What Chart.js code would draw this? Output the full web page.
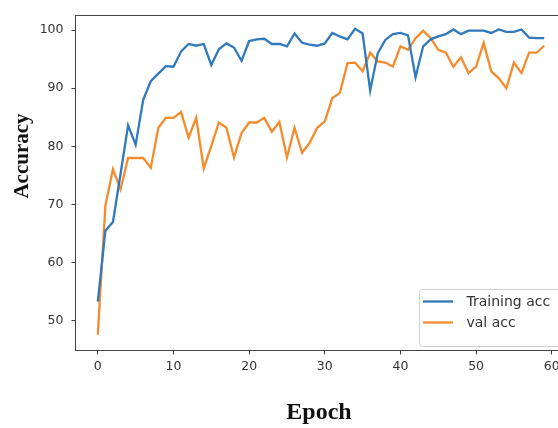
<!DOCTYPE html>
<html><head><meta charset="utf-8">
<script src="https://cdn.jsdelivr.net/npm/chart.js@4/dist/chart.umd.min.js"></script>
<style>
html,body{margin:0;padding:0;overflow:hidden;background:#fff;width:558px;height:428px}
#wrap{position:absolute;left:0;top:0;width:600px;height:428px}
</style>
</head><body>
<div id="wrap"><canvas id="c" width="600" height="428"></canvas></div>
<script>
const epochs = [0,1,2,3,4,5,6,7,8,9,10,11,12,13,14,15,16,17,18,19,20,21,22,23,24,25,26,27,28,29,
  30,31,32,33,34,35,36,37,38,39,40,41,42,43,44,45,46,47,48,49,50,51,52,53,54,55,56,57,58,59];
const trainingAcc = [53.3,65.5,67.0,75.2,83.6,80.3,88.0,91.2,92.5,93.8,93.7,96.3,97.6,97.3,97.6,
  94.0,96.7,97.7,97.0,94.7,98.1,98.4,98.5,97.6,97.6,97.2,99.4,97.8,97.5,97.3,
  97.7,99.5,98.9,98.4,100.2,99.4,89.6,96.0,98.3,99.3,99.5,99.1,91.9,97.2,98.4,
  98.9,99.3,100.1,99.3,99.9,99.9,99.9,99.5,100.1,99.7,99.7,100.1,98.7,98.6,98.6];
const valAcc = [47.6,69.8,76.1,72.6,78.0,78.0,78.0,76.3,83.2,84.9,84.9,85.9,81.5,84.9,76.2,
  80.1,84.1,83.2,78.1,82.3,84.1,84.1,84.9,82.5,84.2,78.1,83.2,78.9,80.6,83.2,
  84.3,88.3,89.2,94.3,94.4,92.9,96.1,94.6,94.4,93.7,97.2,96.6,98.6,99.9,98.6,
  96.6,96.1,93.7,95.3,92.6,93.7,97.8,92.9,91.7,90.0,94.4,92.6,96.1,96.1,97.3];
const xTicks = [0,10,20,30,40,50,60];
const yTicks = [50,60,70,80,90,100];
const seriesLabels = ['Training acc','val acc'];
const xTitle = 'Epoch';
const yTitle = 'Accuracy';

const toPts = vals => epochs.map((e,i)=>({x:e,y:vals[i]}));

const extras = {
  id:'extras',
  afterDraw(chart){
    const ctx = chart.ctx, a = chart.chartArea;
    ctx.save();
    // top & right spines
    ctx.strokeStyle = '#444'; ctx.lineWidth = 1;
    ctx.beginPath();
    ctx.moveTo(a.left, a.top); ctx.lineTo(a.right, a.top); ctx.lineTo(a.right, a.bottom);
    ctx.stroke();
    // legend
    const lx = 419.5, ly = 289.5, lw = 170, lh = 57, r = 3;
    ctx.beginPath();
    ctx.moveTo(lx+r, ly); ctx.lineTo(lx+lw-r, ly); ctx.arcTo(lx+lw, ly, lx+lw, ly+r, r);
    ctx.lineTo(lx+lw, ly+lh-r); ctx.arcTo(lx+lw, ly+lh, lx+lw-r, ly+lh, r);
    ctx.lineTo(lx+r, ly+lh); ctx.arcTo(lx, ly+lh, lx, ly+lh-r, r);
    ctx.lineTo(lx, ly+r); ctx.arcTo(lx, ly, lx+r, ly, r);
    ctx.closePath();
    ctx.fillStyle = 'rgba(255,255,255,0.85)'; ctx.fill();
    ctx.strokeStyle = '#d0d0d0'; ctx.stroke();
    const rows = [301.5, 322.5];
    chart.data.datasets.forEach((ds,i)=>{
      ctx.strokeStyle = ds.borderColor; ctx.lineWidth = 2.3;
      ctx.beginPath(); ctx.moveTo(423, rows[i]); ctx.lineTo(453, rows[i]); ctx.stroke();
      ctx.fillStyle = '#333'; ctx.font = '14px "DejaVu Sans"';
      ctx.textAlign = 'left'; ctx.textBaseline = 'middle';
      ctx.fillText(ds.label, 466.5, rows[i]+0.5);
    });
    // axis titles
    ctx.fillStyle = '#111';
    ctx.textAlign = 'center'; ctx.textBaseline = 'middle';
    ctx.font = 'bold 24px "Liberation Serif"';
    ctx.fillText(xTitle, 319, 413);
    ctx.font = 'bold 21px "Liberation Serif"';
    ctx.translate(23, 156); ctx.rotate(-Math.PI/2);
    ctx.fillText(yTitle, 0, 0);
    ctx.restore();
  }
};

new Chart(document.getElementById('c'), {
  type:'line',
  data:{datasets:[
    {label:seriesLabels[0], data:toPts(trainingAcc), borderColor:'#3079bd', borderWidth:2.3, pointRadius:0, tension:0, fill:false},
    {label:seriesLabels[1], data:toPts(valAcc), borderColor:'#f58b2c', borderWidth:2.3, pointRadius:0, tension:0, fill:false}
  ]},
  options:{
    responsive:false, animation:false, devicePixelRatio:1,
    layout:{padding:{left:0, top:12.5, right:33.5, bottom:0}},
    plugins:{legend:{display:false}, tooltip:{enabled:false}},
    scales:{
      x:{type:'linear', min:-2.95, max:61.95,
        afterFit(s){ s.height = 77.5; },
        afterBuildTicks(s){ s.ticks = xTicks.map(v=>({value:v})); },
        ticks:{includeBounds:false, color:'#333', font:{family:'DejaVu Sans', size:12.5}, padding:5, maxRotation:0},
        grid:{drawOnChartArea:false, drawTicks:true, tickLength:4, color:'#444'},
        border:{display:true, color:'#444', width:1}
      },
      y:{type:'linear', min:44.9, max:102.5,
        afterFit(s){ s.width = 75.5; },
        afterBuildTicks(s){ s.ticks = yTicks.map(v=>({value:v})); },
        ticks:{includeBounds:false, color:'#333', font:{family:'DejaVu Sans', size:12.5}, padding:8},
        grid:{drawOnChartArea:false, drawTicks:true, tickLength:4, color:'#444'},
        border:{display:true, color:'#444', width:1}
      }
    }
  },
  plugins:[extras]
});
</script>
</body></html>
